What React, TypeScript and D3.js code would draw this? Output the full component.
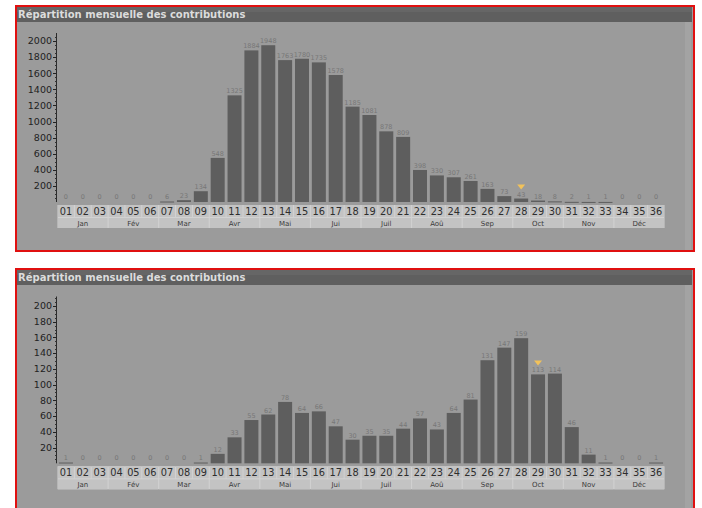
import * as d3 from "d3";

const weeks = Array.from({ length: 36 }, (_, i) => String(i + 1).padStart(2, "0"));
const months = ["Jan", "Fév", "Mar", "Avr", "Mai", "Jui", "Juil", "Aoû", "Sep", "Oct", "Nov", "Déc"];

const topValues = [
  0, 0, 0, 0, 0, 0, 6, 23, 134, 548, 1325, 1884, 1948, 1763, 1780, 1735, 1578, 1185,
  1081, 878, 809, 398, 330, 307, 261, 163, 73, 43, 18, 8, 2, 1, 1, 0, 0, 0,
];
const bottomValues = [
  1, 0, 0, 0, 0, 0, 0, 0, 1, 12, 33, 55, 62, 78, 64, 66, 47, 30,
  35, 35, 44, 57, 43, 64, 81, 131, 147, 159, 113, 114, 46, 11, 1, 0, 0, 1,
];
const topTicks = [200, 400, 600, 800, 1000, 1200, 1400, 1600, 1800, 2000];
const bottomTicks = [20, 40, 60, 80, 100, 120, 140, 160, 180, 200];

const title = "Répartition mensuelle des contributions";
const font = "DejaVu Sans, Verdana, sans-serif";

type PanelProps = {
  y0: number;
  values: number[];
  yMax: number;
  ticks: number[];
  minorStep: number;
  markerWeek: string;
  plotTop: number;
  baseline: number;
  panelHeight: number;
};

function Panel({ y0, values, yMax, ticks, minorStep, markerWeek, plotTop, baseline, panelHeight }: PanelProps) {
  const x = d3.scaleBand<string>().domain(weeks).range([57.5, 664.5]).paddingInner(0.17).paddingOuter(0.085);
  const cell = d3.scaleBand<string>().domain(weeks).range([57.5, 664.5]);
  const y = d3.scaleLinear().domain([0, yMax]).range([baseline, plotTop]);
  const minor = d3.range(minorStep, yMax, minorStep);
  const rowTop = baseline + 3;
  const rowH = 12;
  const monthTop = rowTop + rowH + 1;
  const monthH = 10;

  return (
    <g transform={`translate(0,${y0})`}>
      <rect x={16} y={1} width={678} height={panelHeight} fill="#9b9b9b" stroke="#e01010" strokeWidth={2} />
      <rect x={685} y={2} width={6} height={panelHeight - 2} fill="#a3a3a3" />
      <rect x={17} y={2} width={675} height={15} fill="#5f5f5f" />
      <rect x={17} y={2} width={675} height={5} fill="#666" />
      <text x={18} y={13} fontSize={10} fontWeight="bold" fontFamily={font} fill="#dcdcdc">
        {title}
      </text>

      {/* axis */}
      <line x1={56.5} x2={56.5} y1={y(yMax)} y2={baseline} stroke="#2a2a2a" strokeWidth={1} />
      {minor.map((v) => (
        <line key={"m" + v} x1={55} x2={56.5} y1={Math.round(y(v)) + 0.5} y2={Math.round(y(v)) + 0.5} stroke="#333" />
      ))}
      {ticks.map((t) => (
        <g key={t}>
          <line x1={53} x2={56.5} y1={Math.round(y(t)) + 0.5} y2={Math.round(y(t)) + 0.5} stroke="#222" />
          <text x={52} y={y(t)} dy="0.35em" textAnchor="end" fontSize={9.5} fontFamily={font} fill="#222">
            {t}
          </text>
        </g>
      ))}

      {/* bars */}
      {weeks.map((w, i) => {
        const v = values[i];
        const top = y(v);
        const bx = x(w)!;
        const cx = bx + x.bandwidth() / 2;
        return (
          <g key={w}>
            {v > 0 && (
              <rect x={bx} y={top} width={x.bandwidth()} height={Math.max(1, baseline - top)} fill="#5e5e5e" />
            )}
            <text x={cx} y={Math.min(top, baseline - 1) - 2} textAnchor="middle" fontSize={6.5} fontFamily={font} fill="#777">
              {v}
            </text>
            {w === markerWeek && (
              <path d={`M${cx - 4},${top - 14} L${cx + 4},${top - 14} L${cx},${top - 9} Z`} fill="#f2c25a" />
            )}
          </g>
        );
      })}

      {/* week and month cells */}
      <rect x={57.5} y={rowTop} width={607} height={rowH + 1 + monthH} fill="#d2d2d2" />
      {weeks.map((w) => (
        <g key={"c" + w}>
          <rect x={cell(w)! + 0.5} y={rowTop} width={cell.bandwidth() - 1} height={rowH} fill="#c3c3c3" />
          <text x={cell(w)! + cell.bandwidth() / 2} y={rowTop + rowH - 2.5} textAnchor="middle" fontSize={9.8} fontFamily={font} fill="#2e2e2e">
            {w}
          </text>
        </g>
      ))}
      {months.map((m, i) => {
        const x0 = cell(weeks[i * 3])!;
        const x1 = cell(weeks[i * 3 + 2])! + cell.bandwidth();
        return (
          <g key={m}>
            <rect x={x0 + 0.5} y={monthTop} width={x1 - x0 - 1} height={monthH} fill="#c3c3c3" />
            <text x={(x0 + x1) / 2} y={monthTop + monthH - 2.5} textAnchor="middle" fontSize={7} fontFamily={font} fill="#3a3a3a">
              {m}
            </text>
          </g>
        );
      })}
    </g>
  );
}

export default function App() {
  return (
    <svg width={702} height={508} style={{ position: "absolute", left: 0, top: 0, background: "#fff" }}>
      <Panel
        y0={5}
        values={topValues}
        yMax={2100}
        ticks={topTicks}
        minorStep={50}
        markerWeek="28"
        plotTop={28}
        baseline={197}
        panelHeight={245}
      />
      <Panel
        y0={268}
        values={bottomValues}
        yMax={212}
        ticks={bottomTicks}
        minorStep={5}
        markerWeek="29"
        plotTop={28.5}
        baseline={195.3}
        panelHeight={250}
      />
    </svg>
  );
}
